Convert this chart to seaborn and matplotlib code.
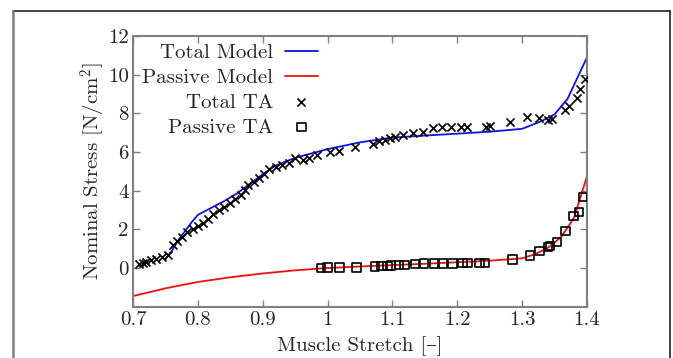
import numpy as np
import pandas as pd
import matplotlib
matplotlib.use("Agg")
import matplotlib.pyplot as plt
from matplotlib.lines import Line2D
import seaborn as sns

# ── Data ────────────────────────────────────────────────────
total_ta_x = [0.710, 0.715, 0.720, 0.728, 0.736, 0.744, 0.754, 0.762, 0.768, 0.776,
              0.784, 0.792, 0.800, 0.808, 0.816, 0.824, 0.832, 0.840, 0.850, 0.858,
              0.866, 0.872, 0.878, 0.886, 0.894, 0.902, 0.910, 0.920, 0.930, 0.940,
              0.950, 0.962, 0.972, 0.984, 1.004, 1.018, 1.042, 1.070, 1.080, 1.088,
              1.096, 1.104, 1.117, 1.132, 1.147, 1.163, 1.177, 1.190, 1.205, 1.215,
              1.245, 1.250, 1.281, 1.308, 1.326, 1.340, 1.346, 1.366, 1.373, 1.384,
              1.389, 1.397]
total_ta_y = [0.20, 0.28, 0.32, 0.40, 0.48, 0.55, 0.66, 1.20, 1.40, 1.60,
              1.85, 2.00, 2.15, 2.35, 2.55, 2.80, 3.00, 3.15, 3.35, 3.55,
              3.80, 4.05, 4.30, 4.45, 4.65, 4.85, 5.10, 5.25, 5.35, 5.45,
              5.70, 5.60, 5.70, 5.85, 5.98, 6.06, 6.27, 6.41, 6.55, 6.62,
              6.70, 6.79, 6.88, 6.96, 7.05, 7.22, 7.28, 7.30, 7.30, 7.30,
              7.28, 7.32, 7.53, 7.83, 7.74, 7.66, 7.72, 8.17, 8.38, 8.78,
              9.24, 9.78]

passive_ta_x = [0.990, 1.000, 1.018, 1.045, 1.073, 1.083, 1.092, 1.098, 1.110, 1.119,
                1.135, 1.149, 1.164, 1.178, 1.193, 1.208, 1.216, 1.234, 1.243, 1.285,
                1.312, 1.327, 1.340, 1.343, 1.354, 1.367, 1.379, 1.388, 1.394]
passive_ta_y = [0.00, 0.02, 0.03, 0.03, 0.08, 0.10, 0.10, 0.13, 0.16, 0.16,
                0.20, 0.22, 0.22, 0.24, 0.24, 0.27, 0.27, 0.27, 0.27, 0.43,
                0.66, 0.87, 1.09, 1.15, 1.35, 1.92, 2.70, 2.90, 3.68]

total_model_x = [0.75, 0.76, 0.77, 0.78, 0.79, 0.80, 0.82, 0.84, 0.86, 0.88, 0.90,
                 0.92, 0.95, 1.00, 1.05, 1.10, 1.15, 1.20, 1.25, 1.30, 1.33, 1.35,
                 1.37, 1.40]
total_model_y = [0.45, 0.90, 1.45, 1.90, 2.35, 2.75, 3.10, 3.45, 3.85, 4.35, 4.85,
                 5.30, 5.70, 6.15, 6.50, 6.75, 6.85, 6.95, 7.05, 7.20, 7.60, 7.95,
                 8.75, 10.90]

passive_model_x = [0.70, 0.75, 0.80, 0.85, 0.90, 0.95, 1.00, 1.05, 1.10, 1.15, 1.20,
                   1.25, 1.30, 1.32, 1.34, 1.36, 1.38, 1.40]
passive_model_y = [-1.45, -1.05, -0.72, -0.48, -0.28, -0.12, 0.00, 0.08, 0.15, 0.22,
                   0.30, 0.38, 0.50, 0.72, 1.05, 1.60, 2.60, 4.75]

x_ticks = [0.7, 0.8, 0.9, 1.0, 1.1, 1.2, 1.3, 1.4]
x_ticklabels = ["0.7", "0.8", "0.9", "1", "1.1", "1.2", "1.3", "1.4"]
y_ticks = [0, 2, 4, 6, 8, 10, 12]

# ── Style ───────────────────────────────────────────────────
sns.set_style("ticks")
plt.rcParams["font.family"] = ["cmr10", "DejaVu Serif"]
plt.rcParams["mathtext.fontset"] = "cm"
plt.rcParams["axes.formatter.use_mathtext"] = True
FS = 15

fig = plt.figure(figsize=(6.73, 3.58), dpi=100)
ax = fig.add_axes([133 / 673, 1 - 306.7 / 358, 454 / 673, 270.7 / 358])

sns.lineplot(x=total_model_x, y=total_model_y, ax=ax, color="#1010ee",
             linewidth=1.3, label="Total Model", sort=False)
sns.lineplot(x=passive_model_x, y=passive_model_y, ax=ax, color="#ee1010",
             linewidth=1.3, label="Passive Model", sort=False)
sns.scatterplot(x=total_ta_x, y=total_ta_y, ax=ax, marker="x", color="black",
                s=34, linewidth=1.2, label="Total TA", zorder=3)
sns.scatterplot(x=passive_ta_x, y=passive_ta_y, ax=ax, marker="s",
                facecolor="none", edgecolor="black", s=38, linewidth=1.2,
                label="Passive TA", zorder=3)

ax.set_xlim(0.7, 1.4)
ax.set_ylim(-2, 12)
ax.set_xticks(x_ticks)
ax.set_xticklabels(x_ticklabels)
ax.set_yticks(y_ticks)
ax.set_yticklabels([str(v) for v in y_ticks])
ax.tick_params(direction="in", top=True, right=True, length=5, width=1,
               color="#808080", labelsize=FS, pad=3)
for sp in ax.spines.values():
    sp.set_visible(True)
    sp.set_color("#808080")
    sp.set_linewidth(1.5)

ax.set_xlabel("Muscle Stretch [–]", fontsize=FS, labelpad=5)
ax.set_ylabel("Nominal Stress [N/cm$^2$]", fontsize=FS, labelpad=0)

leg = ax.legend(loc="upper right", bbox_to_anchor=(0.4075, 0.972), frameon=False,
                markerfirst=False, fontsize=FS, handlelength=1.6,
                labelspacing=0.3, borderaxespad=0.0, borderpad=0.0,
                handletextpad=0.55)

# outer frame of the original figure
fig.add_artist(Line2D([13 / 673, 670 / 673], [1 - 11 / 358] * 2,
                      color="#222222", lw=1.2))
fig.add_artist(Line2D([13 / 673] * 2, [0, 1 - 11 / 358],
                      color="#808080", lw=1.8))
fig.add_artist(Line2D([670 / 673] * 2, [0, 1 - 11 / 358],
                      color="#222222", lw=1.2))

fig.savefig("out.png", dpi=100)
